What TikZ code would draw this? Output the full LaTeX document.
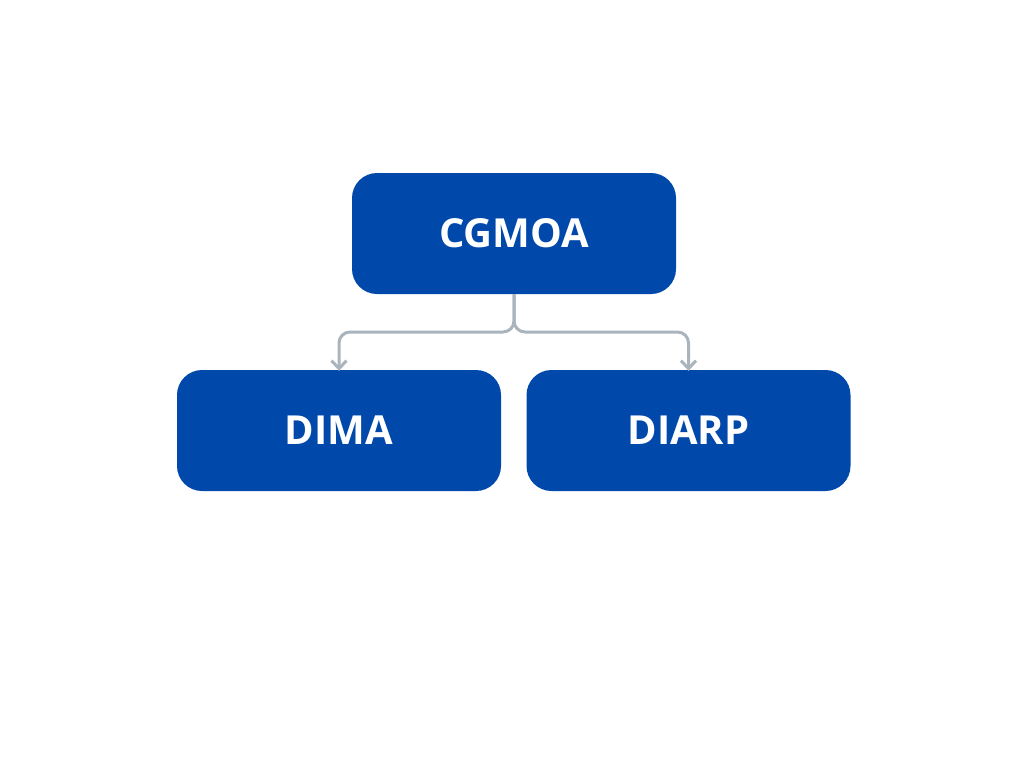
\documentclass[tikz,border=0pt]{standalone}
\usepackage{fontspec}
\setmainfont{Open Sans}
\usetikzlibrary{arrows.meta}
\definecolor{boxblue}{HTML}{0049AB}
\definecolor{linegray}{HTML}{A9B4BD}
\begin{document}
\begin{tikzpicture}[x=1pt,y=-1pt,
  box/.style={fill=boxblue,rounded corners=25pt,minimum width=324pt,minimum height=121pt,inner sep=0pt,
    text=white,font=\fontsize{40}{46}\selectfont\bfseries},
  conn/.style={draw=linegray,line width=3pt,rounded corners=11pt,-{Straight Barb[length=8pt,width=15pt,line width=3pt]}}]
\useasboundingbox (0,0) rectangle (1024,768);
\fill[white] (0,0) rectangle (1024,768);
\node[box] (top) at (514,233.5) {CGMOA};
\node[box] (left) at (339,430.5) {DIMA};
\node[box] (right) at (688.5,430.5) {DIARP};
\coordinate (split) at (514,332);
\draw[conn] (top.south) -- (split) -| ([yshift=-1pt]left.north);
\draw[conn] (top.south) -- (split) -| ([yshift=-1pt]right.north);
\end{tikzpicture}
\end{document}
